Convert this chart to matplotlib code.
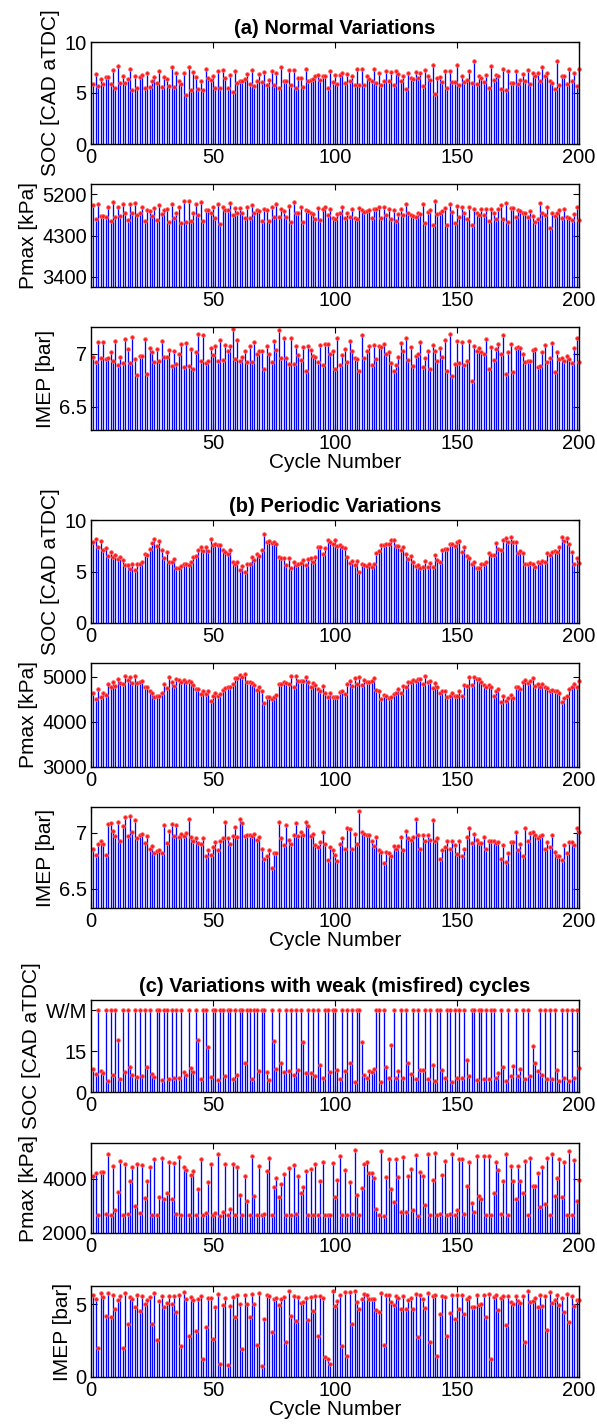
import numpy as np
import matplotlib
matplotlib.use("Agg")
import matplotlib.pyplot as plt

plt.rcParams['font.family'] = ['Liberation Sans', 'DejaVu Sans']

cycles = np.arange(1, 201)

# level at which weak / misfired cycles are drawn in the SOC plot of panel (c)
W = 30

# ---------------- (a) Normal variations ----------------
soc_normal = [
    5.9, 6.9, 5.7, 6.4, 5.9, 6.6, 6.6, 5.9, 7.3, 5.5,
    7.6, 6.0, 6.7, 6.0, 6.35, 7.4, 5.3, 6.7, 5.45, 6.6,
    6.8, 5.5, 7.0, 5.6, 6.2, 6.6, 6.0, 7.2, 5.6, 6.6,
    6.4, 5.7, 7.5, 5.6, 7.0, 6.2, 5.9, 7.0, 4.8, 7.5,
    5.3, 7.1, 6.6, 5.4, 6.2, 5.3, 7.4, 6.5, 6.25, 6.7,
    5.45, 7.2, 5.5, 7.3, 6.5, 5.5, 6.8, 5.1, 7.2, 6.0,
    6.2, 6.2, 6.4, 6.9, 5.9, 7.3, 5.7, 6.2, 6.9, 6.1,
    7.1, 5.8, 6.3, 7.2, 5.8, 7.0, 5.5, 7.5, 6.2, 6.2,
    7.3, 5.8, 7.3, 5.5, 6.5, 6.5, 5.6, 7.4, 6.2, 6.3,
    6.4, 6.7, 6.8, 6.3, 6.7, 6.7, 5.5, 7.2, 6.1, 6.8,
    5.9, 6.8, 7.0, 6.0, 6.9, 6.2, 6.7, 5.8, 7.4, 5.8,
    7.4, 5.8, 6.7, 6.4, 6.2, 7.4, 6.0, 7.0, 5.8, 6.2,
    7.2, 6.2, 7.1, 5.8, 7.2, 6.9, 6.2, 6.7, 5.4, 7.0,
    6.5, 6.4, 7.1, 6.5, 7.0, 5.7, 7.3, 6.7, 6.3, 7.7,
    4.9, 6.5, 6.6, 6.1, 7.2, 5.5, 7.2, 6.1, 6.1, 7.7,
    5.8, 6.7, 6.1, 6.3, 7.2, 6.0, 8.1, 5.9, 6.7, 6.5,
    6.1, 6.8, 5.5, 7.6, 6.3, 6.8, 6.7, 5.4, 7.4, 5.3,
    7.2, 6.0, 6.0, 7.2, 5.9, 6.3, 6.9, 6.2, 7.3, 5.9,
    7.0, 6.7, 7.0, 6.2, 7.5, 6.7, 7.0, 6.2, 6.0, 5.4,
    8.1, 5.8, 6.7, 6.7, 5.9, 7.4, 6.2, 7.0, 5.7, 7.4,
]

pmax_normal = [
    4970, 4650, 4980, 4720, 4720, 4710, 4930, 4610, 5020, 4700,
    4930, 4720, 4980, 4800, 4640, 4990, 4780, 5000, 4750, 4800,
    4930, 4620, 4850, 4840, 4720, 4890, 4640, 4970, 4760, 4850,
    4870, 4590, 4980, 4670, 4800, 4910, 4580, 5040, 4590, 5050,
    4620, 4800, 4990, 4740, 5020, 4620, 4850, 4850, 4800, 4910,
    4670, 4990, 4540, 4930, 4850, 4850, 5000, 4740, 4890, 4790,
    4890, 4780, 4680, 4910, 4670, 4970, 4780, 4860, 4830, 4620,
    4880, 4860, 4620, 4930, 4700, 4980, 4710, 4870, 4830, 4700,
    4950, 4590, 5020, 4800, 4800, 4910, 4600, 4860, 4830, 4800,
    4770, 4650, 4900, 4640, 4870, 4930, 4740, 4880, 4670, 4650,
    4760, 4800, 4920, 4680, 4780, 4700, 4870, 4690, 4660, 4890,
    4850, 4810, 4830, 4860, 4690, 4870, 4880, 4920, 4690, 4920,
    4750, 4880, 4660, 4860, 4610, 4770, 4870, 4740, 4980, 4790,
    4740, 4720, 4700, 4800, 4760, 4980, 4580, 4820, 4850, 4520,
    5060, 4760, 4800, 4830, 4890, 4520, 4980, 4810, 4580, 4950,
    4710, 4930, 4800, 4660, 4920, 4520, 4870, 4780, 4740, 4870,
    4740, 4870, 4610, 4870, 4790, 4660, 4870, 4970, 4650, 5000,
    4590, 4890, 4890, 4700, 4850, 4840, 4780, 4800, 4710, 4840,
    4730, 4590, 4650, 5000, 4780, 4740, 4930, 4460, 4780, 4720,
    4780, 4850, 4690, 4870, 4700, 4690, 4640, 4770, 4930, 4640,
]

imep_normal = [
    6.97, 6.92, 7.11, 6.96, 7.11, 6.95, 6.96, 7.01, 6.93, 7.12,
    6.89, 6.97, 6.91, 7.14, 7.04, 6.91, 7.16, 6.95, 6.80, 6.98,
    6.98, 7.14, 6.81, 7.05, 7.01, 6.92, 7.04, 6.93, 7.12, 6.97,
    6.97, 7.03, 6.88, 7.02, 6.90, 7.00, 7.09, 6.87, 7.10, 6.88,
    7.04, 6.85, 7.01, 7.18, 6.93, 7.17, 6.91, 6.93, 7.05, 6.99,
    7.07, 6.93, 7.13, 6.94, 7.08, 7.02, 7.07, 7.23, 6.95, 7.13,
    6.93, 6.97, 7.02, 6.92, 7.07, 6.92, 7.11, 7.00, 7.02, 7.02,
    6.85, 7.07, 7.00, 6.92, 7.12, 7.03, 7.22, 6.96, 7.15, 6.96,
    6.90, 7.15, 6.90, 7.07, 6.99, 6.94, 7.06, 6.84, 7.07, 7.03,
    6.98, 6.97, 6.92, 7.08, 6.89, 7.09, 7.09, 7.00, 7.02, 6.85,
    7.15, 6.89, 6.99, 7.04, 6.92, 7.12, 7.02, 6.96, 6.95, 6.84,
    7.17, 6.96, 7.02, 7.07, 6.89, 7.08, 6.95, 7.07, 7.06, 7.09,
    7.00, 7.01, 6.91, 6.84, 6.89, 6.97, 7.10, 7.02, 7.15, 6.94,
    7.06, 6.88, 6.98, 7.00, 7.11, 6.87, 6.96, 7.02, 6.85, 7.08,
    7.02, 6.93, 7.05, 6.97, 7.13, 6.84, 7.18, 6.79, 6.90, 7.12,
    6.91, 7.11, 6.89, 6.93, 7.12, 6.74, 7.07, 7.02, 7.05, 7.01,
    7.00, 7.14, 6.85, 7.06, 6.94, 7.04, 7.09, 7.00, 7.17, 6.81,
    7.01, 7.09, 6.83, 7.05, 7.06, 7.05, 7.00, 6.92, 6.93, 6.93,
    7.03, 7.04, 6.87, 6.88, 7.01, 7.08, 6.92, 6.96, 7.10, 6.83,
    7.01, 6.95, 6.96, 6.93, 6.98, 6.95, 6.91, 7.05, 7.15, 6.92,
]

# ---------------- (b) Periodic variations ----------------
soc_periodic = [
    7.84, 8.19, 7.42, 7.94, 7.10, 7.32, 6.55, 6.87, 6.39, 6.61,
    6.19, 6.39, 6.10, 5.65, 5.65, 5.23, 5.77, 5.13, 5.77, 5.77,
    5.97, 6.74, 6.61, 7.19, 7.77, 8.19, 7.52, 8.00, 7.10, 6.29,
    6.87, 5.97, 5.97, 6.19, 5.32, 5.32, 5.55, 5.77, 5.71, 5.65,
    5.97, 6.42, 6.52, 7.10, 7.42, 7.00, 7.42, 7.00, 8.19, 7.61,
    7.68, 7.61, 7.55, 7.06, 6.87, 6.71, 7.10, 5.90, 5.71, 5.90,
    5.19, 5.52, 5.00, 5.71, 5.77, 6.39, 6.10, 6.74, 6.48, 7.06,
    8.68, 7.90, 7.97, 7.77, 7.90, 7.65, 6.42, 6.29, 6.29, 5.65,
    6.29, 5.32, 5.97, 5.65, 5.71, 5.87, 6.10, 5.65, 6.19, 6.29,
    5.97, 6.42, 7.42, 7.42, 6.74, 7.32, 8.10, 7.84, 7.71, 8.10,
    7.52, 7.61, 7.42, 7.32, 6.42, 5.87, 6.06, 5.65, 6.03, 4.94,
    5.77, 5.65, 5.52, 5.77, 5.42, 5.77, 6.77, 6.97, 7.58, 7.58,
    7.68, 7.71, 8.03, 8.10, 7.52, 7.52, 7.10, 7.42, 6.71, 6.19,
    6.48, 5.97, 5.52, 5.65, 5.32, 5.42, 6.06, 5.42, 5.87, 5.42,
    6.61, 6.10, 5.97, 7.06, 7.16, 7.16, 7.65, 7.71, 7.52, 7.84,
    8.00, 6.87, 7.42, 6.48, 6.29, 5.77, 5.90, 5.32, 5.32, 5.77,
    5.77, 5.90, 6.77, 6.61, 6.61, 7.81, 7.19, 7.10, 8.10, 8.23,
    7.90, 8.39, 7.84, 7.84, 6.77, 7.00, 6.81, 5.77, 5.71, 5.87,
    5.77, 5.42, 5.97, 5.87, 6.06, 5.97, 6.81, 6.61, 6.87, 7.00,
    6.94, 7.42, 8.39, 7.94, 8.23, 7.71, 6.87, 5.77, 6.35, 5.81,
]

pmax_periodic = [
    4630, 4500, 4720, 4540, 4640, 4590, 4840, 4770, 4870, 4790,
    4940, 4860, 4840, 5010, 4920, 5000, 4860, 5020, 4860, 4870,
    4900, 4760, 4760, 4670, 4630, 4540, 4570, 4570, 4630, 4840,
    4740, 4990, 4870, 4800, 4940, 4920, 4870, 4930, 4870, 4900,
    4870, 4820, 4730, 4730, 4620, 4670, 4620, 4680, 4470, 4570,
    4640, 4560, 4610, 4700, 4740, 4760, 4760, 4830, 4960, 4960,
    5040, 4990, 5050, 4890, 4890, 4850, 4820, 4700, 4760, 4670,
    4410, 4540, 4540, 4500, 4540, 4590, 4840, 4840, 4870, 4860,
    4830, 5020, 4780, 5010, 4900, 4900, 4900, 4980, 4870, 4780,
    4850, 4820, 4730, 4680, 4790, 4630, 4550, 4630, 4550, 4550,
    4550, 4650, 4670, 4620, 4840, 4900, 4800, 4960, 4840, 4990,
    4820, 4930, 4870, 4890, 4900, 4960, 4700, 4680, 4500, 4590,
    4560, 4520, 4540, 4620, 4640, 4730, 4640, 4800, 4780, 4870,
    4870, 4930, 4900, 4950, 4940, 4830, 5010, 4870, 4900, 4740,
    4850, 4760, 4640, 4670, 4670, 4550, 4570, 4640, 4560, 4560,
    4680, 4560, 4820, 4790, 4990, 4820, 5000, 4950, 4940, 4890,
    4820, 4760, 4820, 4760, 4580, 4670, 4730, 4440, 4570, 4470,
    4530, 4590, 4520, 4770, 4760, 4720, 4890, 4930, 4860, 4900,
    4960, 4800, 4840, 4780, 4830, 4760, 4740, 4680, 4700, 4680,
    4670, 4640, 4440, 4520, 4560, 4720, 4770, 4830, 4760, 4900,
]

imep_periodic = [
    6.86, 6.80, 6.90, 6.93, 6.90, 6.80, 7.08, 7.09, 7.02, 6.97,
    7.10, 6.93, 7.06, 7.14, 6.97, 7.15, 7.01, 7.11, 6.95, 6.98,
    6.99, 6.91, 6.97, 6.86, 6.88, 6.82, 6.84, 6.85, 6.82, 7.07,
    6.91, 7.02, 7.08, 6.97, 7.07, 6.96, 6.99, 6.97, 7.00, 7.12,
    6.96, 6.93, 6.95, 6.91, 6.90, 6.95, 6.79, 6.85, 6.80, 6.87,
    6.92, 6.85, 6.93, 6.95, 7.10, 6.95, 6.90, 6.97, 7.05, 6.96,
    7.12, 7.09, 6.97, 6.98, 6.98, 6.97, 6.99, 6.94, 6.96, 6.86,
    6.77, 6.79, 6.85, 6.69, 6.82, 6.82, 7.10, 6.95, 6.89, 7.07,
    6.94, 6.90, 6.98, 7.09, 6.97, 7.01, 6.98, 7.10, 7.06, 6.97,
    6.99, 6.89, 6.87, 6.92, 7.01, 6.90, 6.76, 6.87, 6.85, 6.80,
    6.75, 6.90, 6.95, 6.86, 7.04, 7.03, 6.86, 6.99, 6.90, 7.19,
    7.01, 6.99, 6.98, 6.98, 6.93, 6.88, 6.96, 6.85, 6.83, 6.73,
    6.83, 6.82, 6.79, 6.88, 6.86, 6.88, 6.96, 6.85, 7.02, 6.95,
    6.94, 6.96, 7.12, 6.98, 6.86, 6.98, 6.93, 6.98, 6.94, 7.11,
    6.93, 6.95, 6.77, 6.85, 6.87, 6.93, 6.86, 6.93, 6.89, 6.81,
    6.93, 6.79, 6.86, 6.96, 7.04, 6.91, 6.99, 6.94, 6.91, 6.91,
    6.96, 6.86, 6.93, 6.93, 6.93, 6.91, 6.92, 6.77, 6.89, 6.74,
    6.82, 6.92, 6.92, 7.01, 6.85, 6.90, 6.79, 7.04, 6.93, 7.00,
    7.01, 6.98, 6.95, 6.97, 6.98, 6.86, 6.92, 6.87, 6.98, 6.83,
    6.79, 6.79, 6.76, 6.89, 6.82, 6.92, 6.92, 6.89, 7.04, 7.01,
]

# ---------------- (c) Variations with weak (misfired) cycles ----------------
soc_misfire = [
    8.6, 6.6, W, 7.6, 6.9, W, 4.2, W, 6.2, W,
    19.2, 4.6, W, 7.2, W, 9.0, 6.2, W, 5.5, W,
    5.7, W, 9.0, W, 6.6, 5.5, W, W, 4.5, W,
    W, 4.8, W, 5.2, W, 5.2, W, 7.3, 6.4, W,
    8.8, 7.3, W, 19.0, 4.8, W, W, 16.4, 5.5, W,
    W, 4.5, W, W, 5.7, W, W, 4.8, W, 6.4,
    W, W, 10.5, W, W, 4.8, W, W, 7.6, W,
    W, 7.3, 4.5, W, 18.8, 8.4, W, 10.5, 7.3, W,
    7.8, W, 6.4, W, 7.9, W, 18.2, 6.9, W, 6.8,
    W, 5.7, W, 9.8, 5.3, W, W, 7.3, W, W,
    8.1, 4.6, W, 7.8, W, 10.5, W, 3.8, W, W,
    18.2, 6.2, 5.3, 7.8, 7.2, 8.3, W, W, 3.6, W,
    9.2, 5.0, 17.3, W, 5.0, 7.6, W, 5.0, W, 10.5,
    6.7, W, 4.8, W, 8.1, 8.1, W, 4.7, W, 10.0,
    4.1, W, W, 8.2, 5.1, W, W, 3.8, W, 5.1,
    W, 5.3, W, 11.8, 5.7, W, W, 4.5, W, W,
    4.7, W, 4.8, W, W, 5.1, 6.8, W, 9.2, 4.2,
    W, 5.8, 9.5, W, 5.9, 8.6, W, 4.7, W, 5.9,
    17.0, 10.8, 7.8, W, 6.4, W, 4.8, W, 4.8, W,
    7.9, 4.0, W, 5.3, W, 4.0, W, 5.3, W, 8.8,
]

pmax_misfire = [
    4110, 4220, 2675, 4270, 4245, 2700, 4930, 2675, 4490, 2870,
    3520, 4675, 2675, 4565, 2690, 3925, 4430, 3005, 4540, 2735,
    4500, 3290, 3915, 4430, 2675, 4750, 2675, 3325, 4785, 3250,
    3495, 4615, 3250, 4590, 2690, 4800, 2675, 4430, 4320, 2675,
    4135, 4295, 2675, 3620, 4725, 2675, 2735, 3880, 4565, 2675,
    2725, 4910, 2640, 2785, 4550, 2675, 2885, 4565, 2675, 4430,
    3410, 2675, 4120, 3190, 2675, 4870, 3360, 2650, 4480, 2650,
    2700, 4295, 4775, 2650, 3720, 4050, 3325, 3830, 4170, 2675,
    4390, 2675, 4500, 2700, 4120, 3470, 3705, 4295, 2675, 4355,
    2675, 4565, 2675, 3915, 4625, 2675, 2675, 2675, 4590, 3325,
    3975, 4870, 2650, 4330, 2650, 3890, 2690, 5070, 3400, 2675,
    3655, 4565, 4640, 4235, 4210, 4050, 2885, 2675, 5055, 2640,
    4085, 4750, 3620, 3140, 4725, 4085, 2785, 4810, 2785, 4110,
    4355, 2845, 4895, 2640, 4260, 4110, 3045, 4930, 2675, 3950,
    4945, 2660, 2710, 4135, 4665, 2675, 2700, 4930, 2675, 2860,
    4735, 4735, 2710, 3730, 4615, 3115, 2760, 4860, 3385, 3250,
    4870, 2675, 4835, 2660, 3470, 4615, 4320, 2690, 3925, 4910,
    2650, 4490, 3940, 3275, 4465, 3915, 3495, 4665, 2650, 4785,
    3730, 3730, 4235, 2970, 4430, 3080, 4785, 2675, 4910, 3385,
    4025, 4750, 3315, 4625, 2675, 5020, 2675, 4685, 3180, 3950,
]

imep_misfire = [
    5.64, 5.37, 2.00, 5.74, 5.48, 4.19, 5.74, 4.10, 5.62, 4.65,
    5.30, 5.53, 1.96, 5.76, 3.64, 5.48, 5.39, 4.79, 5.60, 4.52,
    5.53, 5.00, 5.30, 5.48, 3.64, 5.76, 2.51, 5.25, 5.53, 4.84,
    5.05, 5.53, 5.00, 5.55, 4.49, 5.62, 2.14, 5.81, 5.35, 2.79,
    5.48, 5.30, 3.13, 5.37, 5.55, 1.22, 3.46, 5.44, 5.41, 2.58,
    4.79, 5.67, 0.92, 4.95, 5.46, 0.85, 4.88, 5.51, 4.12, 5.60,
    4.98, 1.94, 5.60, 4.98, 4.12, 5.69, 5.02, 2.19, 5.74, 0.76,
    3.96, 5.62, 5.58, 3.06, 5.37, 5.41, 4.95, 5.39, 5.48, 2.37,
    5.92, 4.22, 5.58, 3.87, 5.48, 5.11, 5.18, 5.41, 3.89, 5.48,
    4.54, 5.58, 2.79, 5.58, 5.46, 1.34, 1.27, 0.92, 5.92, 4.86,
    5.25, 5.62, 2.12, 5.81, 1.45, 5.81, 3.64, 5.88, 5.14, 4.68,
    5.37, 5.69, 5.60, 5.39, 5.39, 5.39, 4.61, 4.47, 5.74, 2.17,
    5.64, 5.60, 5.14, 4.93, 5.58, 5.41, 4.65, 5.58, 4.65, 5.30,
    5.46, 4.65, 5.67, 2.76, 5.62, 5.35, 4.77, 5.78, 2.37, 5.55,
    5.62, 1.43, 4.31, 5.55, 5.48, 2.79, 4.38, 5.64, 3.99, 5.60,
    4.65, 5.62, 4.31, 5.35, 5.48, 4.79, 4.79, 5.64, 4.95, 5.00,
    5.64, 4.12, 5.71, 1.27, 5.48, 5.62, 4.58, 5.41, 5.53, 3.57,
    5.53, 5.18, 5.00, 5.53, 5.21, 5.09, 5.53, 2.37, 5.92, 5.18,
    5.21, 5.41, 4.79, 5.60, 4.91, 5.53, 3.23, 5.83, 5.07, 5.30,
    5.60, 4.95, 5.41, 4.49, 5.71, 3.78, 5.58, 4.86, 5.30, 5.30,
]

titles = ['(a) Normal Variations', '(b) Periodic Variations',
          '(c) Variations with weak (misfired) cycles']

FIG_W, FIG_H = 597, 1426
DPI = 100
fig = plt.figure(figsize=(FIG_W / DPI, FIG_H / DPI), dpi=DPI)

AX_LEFT, AX_RIGHT = 91, 579
TICK_FS = 14.5
LABEL_FS = 15
ALL_X = [0, 50, 100, 150, 200]
NO_ZERO_X = [50, 100, 150, 200]

# (top px, bottom px, values, ylim, yticks, yticklabels, ylabel, xticks, xlabel, title)
panels = [
    (42, 144, soc_normal, (0, 10), [0, 5, 10], None, 'SOC [CAD aTDC]', ALL_X, False, titles[0]),
    (184, 287, pmax_normal, (3180, 5420), [3400, 4300, 5200], None, 'Pmax [kPa]', NO_ZERO_X, False, None),
    (327, 430, imep_normal, (6.28, 7.25), [6.5, 7], ['6.5', '7'], 'IMEP [bar]', NO_ZERO_X, True, None),
    (520, 623, soc_periodic, (0, 10), [0, 5, 10], None, 'SOC [CAD aTDC]', ALL_X, False, titles[1]),
    (663, 767, pmax_periodic, (3000, 5300), [3000, 4000, 5000], None, 'Pmax [kPa]', ALL_X, False, None),
    (807, 908, imep_periodic, (6.33, 7.23), [6.5, 7], ['6.5', '7'], 'IMEP [bar]', ALL_X, True, None),
    (1000, 1092, soc_misfire, (0, 33.7), [0, 15, W], ['0', '15', 'W/M'], 'SOC [CAD aTDC]', ALL_X, False, titles[2]),
    (1143, 1233, pmax_misfire, (2000, 5333), [2000, 4000], None, 'Pmax [kPa]', ALL_X, False, None),
    (1286, 1377, imep_misfire, (0, 6.25), [0, 5], None, 'IMEP [bar]', ALL_X, True, None),
]

for top, bottom, vals, ylim, yticks, yticklabels, ylabel, xticks, xlabel, title in panels:
    ax = fig.add_axes([AX_LEFT / FIG_W, 1 - bottom / FIG_H,
                       (AX_RIGHT - AX_LEFT) / FIG_W, (bottom - top) / FIG_H])
    vals = np.asarray(vals, dtype=float)
    ax.vlines(cycles, 0, vals, colors='#0000ff', linewidth=0.95, zorder=2)
    ax.plot(cycles, vals, 'o', ms=2.7, mfc='#ff1a1a', mec='#ff6a6a', mew=0.5,
            zorder=3, clip_on=False)
    ax.set_xlim(0, 200)
    ax.set_ylim(*ylim)
    ax.set_xticks(xticks)
    ax.set_yticks(yticks)
    if yticklabels is not None:
        ax.set_yticklabels(yticklabels)
    ax.tick_params(direction='in', length=4, width=0.8, labelsize=TICK_FS,
                   top=True, right=True, pad=3)
    for sp in ax.spines.values():
        sp.set_linewidth(1.0)
        sp.set_zorder(5)
    ax.set_ylabel(ylabel, fontsize=LABEL_FS, labelpad=3)
    if xlabel:
        ax.set_xlabel('Cycle Number', fontsize=LABEL_FS, labelpad=0)
    if title:
        ax.set_title(title, fontsize=14.5, fontweight='bold', pad=6)

fig.savefig('out.png', dpi=DPI)
